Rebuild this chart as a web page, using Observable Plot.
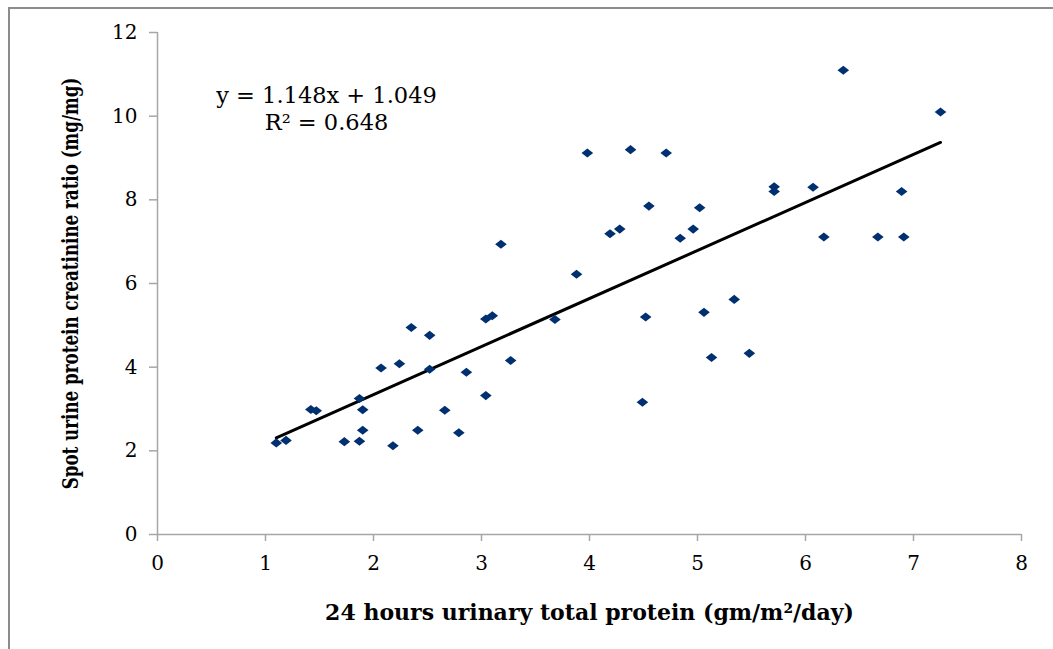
<!DOCTYPE html>
<html>
<head>
<meta charset="utf-8">
<script src="https://cdn.jsdelivr.net/npm/d3@7"></script>
<script src="https://cdn.jsdelivr.net/npm/@observablehq/plot@0.6"></script>
<style>
  html, body { margin: 0; padding: 0; background: #fff; }
  #wrap { position: relative; width: 1053px; height: 649px; overflow: hidden; }
  #frame { position: absolute; left: 8px; top: 7px; right: -10px; bottom: -10px;
           border-top: 2px solid #8c8c8c; border-left: 2px solid #8c8c8c; pointer-events: none; }
</style>
</head>
<body>
<div id="wrap"><div id="frame"></div></div>
<script>
// 24-hour urinary total protein (gm/m²/day)
const proteinX = [
  1.10, 1.19, 1.42, 1.47, 1.73, 1.87, 1.87, 1.90, 1.90, 2.07,
  2.18, 2.24, 2.35, 2.41, 2.52, 2.52, 2.66, 2.79, 2.86, 3.04,
  3.04, 3.10, 3.18, 3.27, 3.68, 3.88, 3.98, 4.19, 4.28, 4.38,
  4.49, 4.52, 4.55, 4.71, 4.84, 4.96, 5.02, 5.06, 5.13, 5.34,
  5.48, 5.71, 5.71, 6.07, 6.17, 6.35, 6.67, 6.89, 6.91, 7.25
];
// Spot urine protein creatinine ratio (mg/mg)
const ratioY = [
  2.19, 2.25, 2.99, 2.96, 2.22, 3.25, 2.23, 2.98, 2.49, 3.98,
  2.12, 4.08, 4.95, 2.49, 4.76, 3.95, 2.97, 2.43, 3.88, 5.15,
  3.32, 5.23, 6.94, 4.16, 5.14, 6.22, 9.12, 7.19, 7.30, 9.20,
  3.16, 5.20, 7.85, 9.12, 7.08, 7.30, 7.81, 5.31, 4.23, 5.62,
  4.33, 8.31, 8.20, 8.30, 7.11, 11.10, 7.11, 8.20, 7.11, 10.10
];
const slope = 1.148;
const intercept = 1.049;
const rSquared = 0.648;
const xTicks = [0, 1, 2, 3, 4, 5, 6, 7, 8];
const yTicks = [0, 2, 4, 6, 8, 10, 12];
const xTitle = "24 hours urinary total protein (gm/m²/day)";
const yTitle = "Spot urine protein creatinine ratio (mg/mg)";

const points = proteinX.map((x, i) => ({x, y: ratioY[i]}));
const [xmin, xmax] = d3.extent(proteinX);
const fit = [xmin, xmax].map(x => ({x, y: slope * x + intercept}));

const diamond = {
  draw(context, size) {
    const r = Math.sqrt(size / Math.PI);
    const w = r, h = r * 0.78;
    context.moveTo(0, -h);
    context.lineTo(w, 0);
    context.lineTo(0, h);
    context.lineTo(-w, 0);
    context.closePath();
  }
};

const serif = "DejaVu Serif";
const axisColor = "#a6a6a6";
const chart = Plot.plot({
  width: 1053,
  height: 649,
  marginLeft: 157,
  marginRight: 32,
  marginTop: 32,
  marginBottom: 115,
  style: {fontFamily: serif, background: "transparent"},
  x: {domain: [0, 8]},
  y: {domain: [0, 12]},
  marks: [
    Plot.ruleX([0], {stroke: axisColor, strokeWidth: 1.5}),
    Plot.ruleY([0], {stroke: axisColor, strokeWidth: 1.5}),
    Plot.axisX({ticks: xTicks, tickSize: 7, tickPadding: 14, stroke: axisColor, strokeWidth: 1.5,
                fontSize: 20, fontFamily: serif, fill: "#000", label: null}),
    Plot.axisY({ticks: yTicks, tickSize: 8, tickPadding: 12, stroke: axisColor, strokeWidth: 1.5,
                fontSize: 20, fontFamily: serif, fill: "#000", label: null}),
    Plot.line(fit, {x: "x", y: "y", stroke: "#000", strokeWidth: 3}),
    Plot.dot(points, {x: "x", y: "y", symbol: diamond, r: 5.8, fill: "#00306f", stroke: "none"}),
    Plot.text([`y = ${slope}x + ${intercept}`], {text: d => d, frameAnchor: "top-left", dx: 169, dy: 63,
               textAnchor: "middle", lineAnchor: "middle", fontSize: 22.5, fontFamily: serif, fill: "#000"}),
    Plot.text([`R² = ${rSquared}`], {text: d => d, frameAnchor: "top-left", dx: 169, dy: 90,
               textAnchor: "middle", lineAnchor: "middle", fontSize: 22.5, fontFamily: serif, fill: "#000"}),
    Plot.text([xTitle], {text: d => d, frameAnchor: "bottom", dy: 78, textAnchor: "middle",
               lineAnchor: "middle", fontSize: 22, fontWeight: "bold", fontFamily: serif, fill: "#000"}),
    Plot.text([yTitle], {text: d => d, frameAnchor: "left", dx: -87, rotate: -90, textAnchor: "middle",
               lineAnchor: "middle", fontSize: 22, fontWeight: "bold", fontFamily: serif, fill: "#000"})
  ]
});
document.getElementById("wrap").prepend(chart);
// condense the vertical axis title (narrow glyphs as in the reference)
chart.querySelectorAll("text").forEach(t => {
  if (t.textContent === yTitle) {
    const len = t.getComputedTextLength();
    const k = len > 412 ? 412 / len : 1;
    const tr = t.getAttribute("transform") || "";
    t.setAttribute("transform", tr + ` scale(${k},1)`);
  }
});
</script>
</body>
</html>
